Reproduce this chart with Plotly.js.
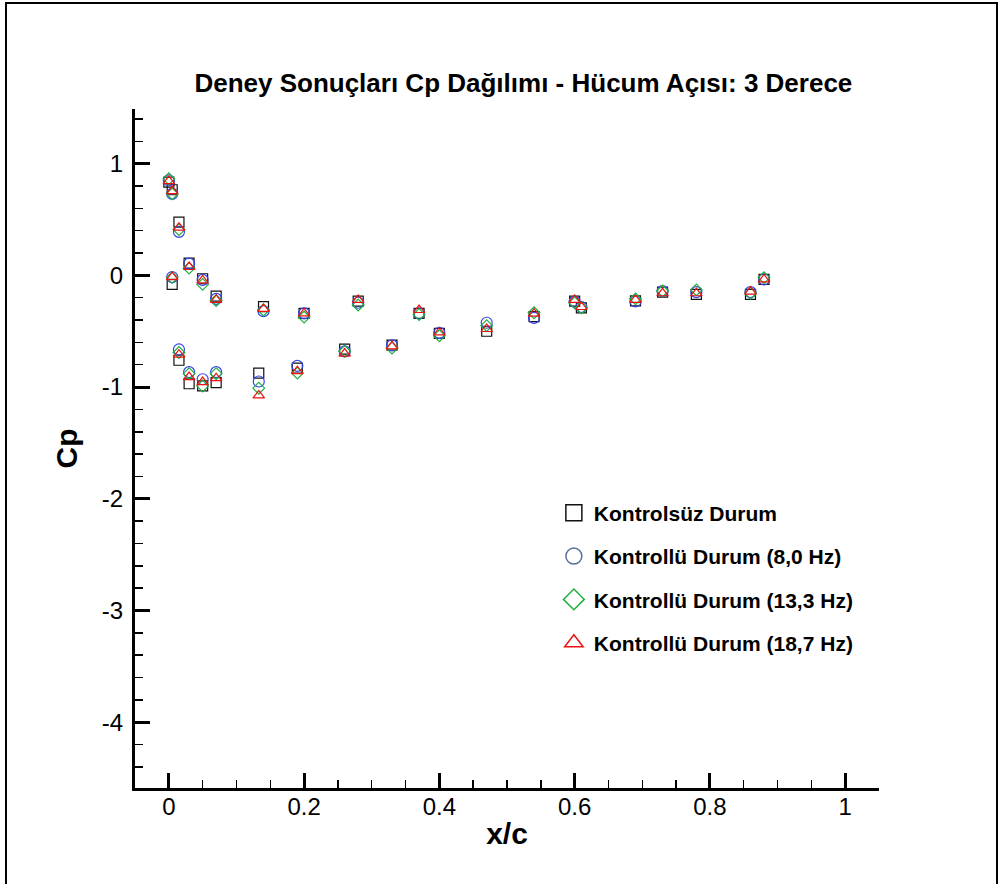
<!DOCTYPE html>
<html>
<head>
<meta charset="utf-8">
<script src="https://cdn.plot.ly/plotly-3.0.1.min.js"></script>
<style>
  html, body { margin: 0; padding: 0; background: #fff; }
  #chart { width: 1000px; height: 884px; }
</style>
</head>
<body>
<div id="chart"></div>
<script>
// x/c stations (pressure- and suction-side points share stations near the leading edge)
const xc = [0, 0.005, 0.005, 0.015, 0.015, 0.03, 0.03, 0.05, 0.05, 0.07, 0.07, 0.133, 0.14, 0.19, 0.2, 0.26, 0.28, 0.33, 0.37, 0.40, 0.47, 0.54, 0.60, 0.61, 0.69, 0.73, 0.78, 0.86, 0.88];

const cpKontrolsuz = [0.835, 0.767, -0.08, 0.477, -0.76, 0.11, -0.97, -0.03, -0.99, -0.185, -0.96, -0.875, -0.28, -0.83, -0.34, -0.66, -0.23, -0.625, -0.34, -0.52, -0.50, -0.37, -0.23, -0.29, -0.228, -0.15, -0.17, -0.17, -0.036];
const cp8Hz = [0.85, 0.73, -0.015, 0.39, -0.663, 0.105, -0.866, -0.04, -0.93, -0.21, -0.866, -0.95, -0.32, -0.81, -0.34, -0.68, -0.245, -0.627, -0.34, -0.515, -0.424, -0.38, -0.235, -0.283, -0.233, -0.14, -0.15, -0.15, -0.036];
const cp13Hz = [0.865, 0.73, -0.02, 0.41, -0.69, 0.065, -0.88, -0.08, -0.99, -0.225, -0.88, -1.01, -0.31, -0.875, -0.373, -0.68, -0.265, -0.65, -0.35, -0.54, -0.45, -0.335, -0.245, -0.29, -0.21, -0.14, -0.13, -0.16, -0.02];
const cp18Hz = [0.845, 0.755, -0.015, 0.427, -0.71, 0.075, -0.91, -0.045, -0.955, -0.22, -0.92, -1.075, -0.30, -0.857, -0.34, -0.70, -0.22, -0.635, -0.31, -0.51, -0.48, -0.343, -0.22, -0.283, -0.22, -0.16, -0.16, -0.145, -0.036];

const seriesNames = ["Kontrolsüz Durum", "Kontrollü Durum (8,0 Hz)", "Kontrollü Durum (13,3 Hz)", "Kontrollü Durum (18,7 Hz)"];

const xTickVals = [0, 0.2, 0.4, 0.6, 0.8, 1];
const xTickText = ["0", "0.2", "0.4", "0.6", "0.8", "1"];
const yTickVals = [1, 0, -1, -2, -3, -4];
const yTickText = ["1", "0", "-1", "-2", "-3", "-4"];

const titleText = "Deney Sonuçları Cp Dağılımı - Hücum Açısı: 3 Derece";
const xTitle = "x/c";
const yTitle = "Cp";

const FONT = "Liberation Sans, Arial, Helvetica, sans-serif";

const styles = [
  {symbol: "square-open", color: "#111111", size: 10},
  {symbol: "circle-open", color: "#3346e6", size: 11},
  {symbol: "diamond-open", color: "#1fb040", size: 9},
  {symbol: "triangle-up-open", color: "#ee1111", size: 10}
];
const legendColors = ["#111111", "#54709a", "#1fb040", "#ee1111"];
const seriesData = [cpKontrolsuz, cp8Hz, cp13Hz, cp18Hz];

const traces = [];
seriesData.forEach((ys, i) => {
  traces.push({
    type: "scatter", mode: "markers", x: xc, y: ys,
    showlegend: false, hoverinfo: "skip",
    marker: {symbol: styles[i].symbol, size: styles[i].size, color: styles[i].color,
             line: {color: styles[i].color, width: 1.2}}
  });
});
// legend entries (no data drawn)
seriesNames.forEach((nm, i) => {
  traces.push({
    type: "scatter", mode: "markers", x: [null], y: [null],
    name: nm, legendgroup: "g" + i, showlegend: true,
    marker: {symbol: styles[i].symbol, size: 16, color: legendColors[i],
             line: {color: legendColors[i], width: 1.5}}
  });
});

const layout = {
  width: 1000, height: 884,
  paper_bgcolor: "#ffffff", plot_bgcolor: "#ffffff",
  margin: {l: 135, r: 121, t: 109, b: 96},
  font: {family: FONT, color: "#000"},
  title: {text: titleText, font: {family: FONT, size: 26, weight: "bold", color: "#000"},
          xref: "paper", x: 0.522, xanchor: "center", yref: "container", y: 0.906, yanchor: "middle"},
  xaxis: {
    range: [-0.05, 1.05], showgrid: false, zeroline: false,
    showline: true, linecolor: "#000", linewidth: 3, mirror: false,
    tickmode: "array", tickvals: xTickVals, ticktext: xTickText,
    ticks: "inside", ticklen: 15, tickwidth: 3, tickcolor: "#000",
    ticklabelstandoff: -5,
    tickfont: {family: FONT, size: 24, color: "#000"},
    minor: {tickmode: "linear", tick0: 0, dtick: 0.05, ticks: "inside", ticklen: 8, tickwidth: 1.5, tickcolor: "#000", showgrid: false},
    title: {text: xTitle, font: {family: FONT, size: 30, weight: "bold", color: "#000"}, standoff: 5}
  },
  yaxis: {
    range: [-4.59, 1.49], showgrid: false, zeroline: false,
    showline: true, linecolor: "#000", linewidth: 3, mirror: false,
    tickmode: "array", tickvals: yTickVals, ticktext: yTickText,
    ticks: "inside", ticklen: 15, tickwidth: 3, tickcolor: "#000",
    ticklabelstandoff: 4,
    tickfont: {family: FONT, size: 24, color: "#000"},
    minor: {tickmode: "linear", tick0: 0, dtick: 0.2, ticks: "inside", ticklen: 8, tickwidth: 1.5, tickcolor: "#000", showgrid: false},
    title: {text: yTitle, font: {family: FONT, size: 30, weight: "bold", color: "#000"}, standoff: 16}
  },
  legend: {
    x: 0.563, xanchor: "left", y: 0.435, yanchor: "top",
    bgcolor: "rgba(0,0,0,0)", borderwidth: 0,
    font: {family: FONT, size: 21, weight: "bold", color: "#000"},
    traceorder: "grouped", tracegroupgap: 13, itemclick: false
  },
  shapes: [{
    type: "rect", xref: "paper", yref: "paper",
    x0: -0.1734, x1: 1.1586, y0: -0.16, y1: 1.156,
    line: {color: "#000", width: 2}, fillcolor: "rgba(0,0,0,0)", layer: "below"
  }]
};

Plotly.newPlot("chart", traces, layout, {displayModeBar: false, staticPlot: true});
</script>
</body>
</html>
